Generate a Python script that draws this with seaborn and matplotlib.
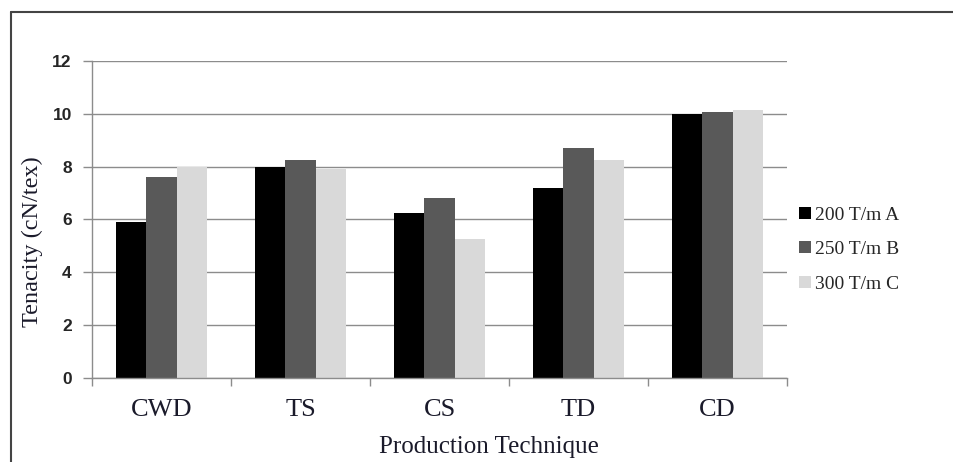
import numpy as np
import pandas as pd
import matplotlib
matplotlib.use("Agg")
import matplotlib.pyplot as plt
from matplotlib.lines import Line2D
import seaborn as sns

# Values
techniques = ["CWD", "TS", "CS", "TD", "CD"]
twist_levels = ["200 T/m A", "250 T/m B", "300 T/m C"]
tenacity_a = [5.9, 8.0, 6.25, 7.2, 10.0]
tenacity_b = [7.6, 8.25, 6.8, 8.7, 10.05]
tenacity_c = [8.0, 7.9, 5.25, 8.25, 10.15]
bar_colors = ["#000000", "#595959", "#d9d9d9"]

df = pd.DataFrame({
    "technique": techniques * 3,
    "twist": [twist_levels[0]] * 5 + [twist_levels[1]] * 5 + [twist_levels[2]] * 5,
    "tenacity": tenacity_a + tenacity_b + tenacity_c,
})

sns.set_style("white")
plt.rcParams["font.family"] = ["Liberation Serif", "DejaVu Serif"]

fig = plt.figure(figsize=(9.54, 4.62), dpi=100)
ax = fig.add_axes([0.0964, 0.182, 0.7286, 0.686])

sns.barplot(data=df, x="technique", y="tenacity", hue="twist", order=techniques,
            hue_order=twist_levels, palette=bar_colors, width=0.66, gap=0,
            saturation=1, edgecolor="none", linewidth=0, ax=ax)

ax.set_ylim(0, 12)
ax.set_xlim(-0.5, 4.5)
ax.set_yticks(range(0, 13, 2))
ax.yaxis.grid(True, color="#8c8c8c", linewidth=1)
ax.set_axisbelow(True)
for lab in ax.get_yticklabels():
    lab.set_family(["Liberation Sans", "DejaVu Sans"])
    lab.set_fontweight("bold")
    lab.set_fontsize(12.5)
    lab.set_color("#262626")
ax.tick_params(axis="y", which="major", left=True, length=6.5, width=1, color="#8c8c8c", pad=8)

# category ticks at the group boundaries
ax.set_xticks(np.arange(-0.5, 5.0, 1.0), minor=True)
ax.tick_params(axis="x", which="minor", bottom=True, length=6, width=1, color="#8c8c8c")
ax.tick_params(axis="x", which="major", bottom=False, length=0, labelsize=19, pad=15,
               labelcolor="#1a1a2a")

for side in ["top", "right"]:
    ax.spines[side].set_visible(False)
for side in ["left", "bottom"]:
    ax.spines[side].set_color("#8c8c8c")
    ax.spines[side].set_linewidth(1)

ax.set_xlabel("Production Technique", fontsize=18, color="#1a1a2a")
ax.xaxis.set_label_coords(0.571, -0.183)
ax.set_ylabel("Tenacity (cN/tex)", fontsize=17.5, color="#1a1a2a")
ax.yaxis.set_label_coords(-0.07, 0.43)

ax.legend(loc="center left", bbox_to_anchor=(1.017, 0.405), frameon=False,
          fontsize=14, handlelength=0.6, handleheight=0.6, handletextpad=0.25,
          labelspacing=0.9, borderaxespad=0, borderpad=0)

# frame around the chart area
fig.add_artist(Line2D([11 / 954, 11 / 954], [0, 1 - 12 / 462], transform=fig.transFigure,
                      color="#444444", linewidth=1.5))
fig.add_artist(Line2D([11 / 954, 1], [1 - 12 / 462, 1 - 12 / 462], transform=fig.transFigure,
                      color="#444444", linewidth=1.5))

fig.savefig("out.png", dpi=100)
